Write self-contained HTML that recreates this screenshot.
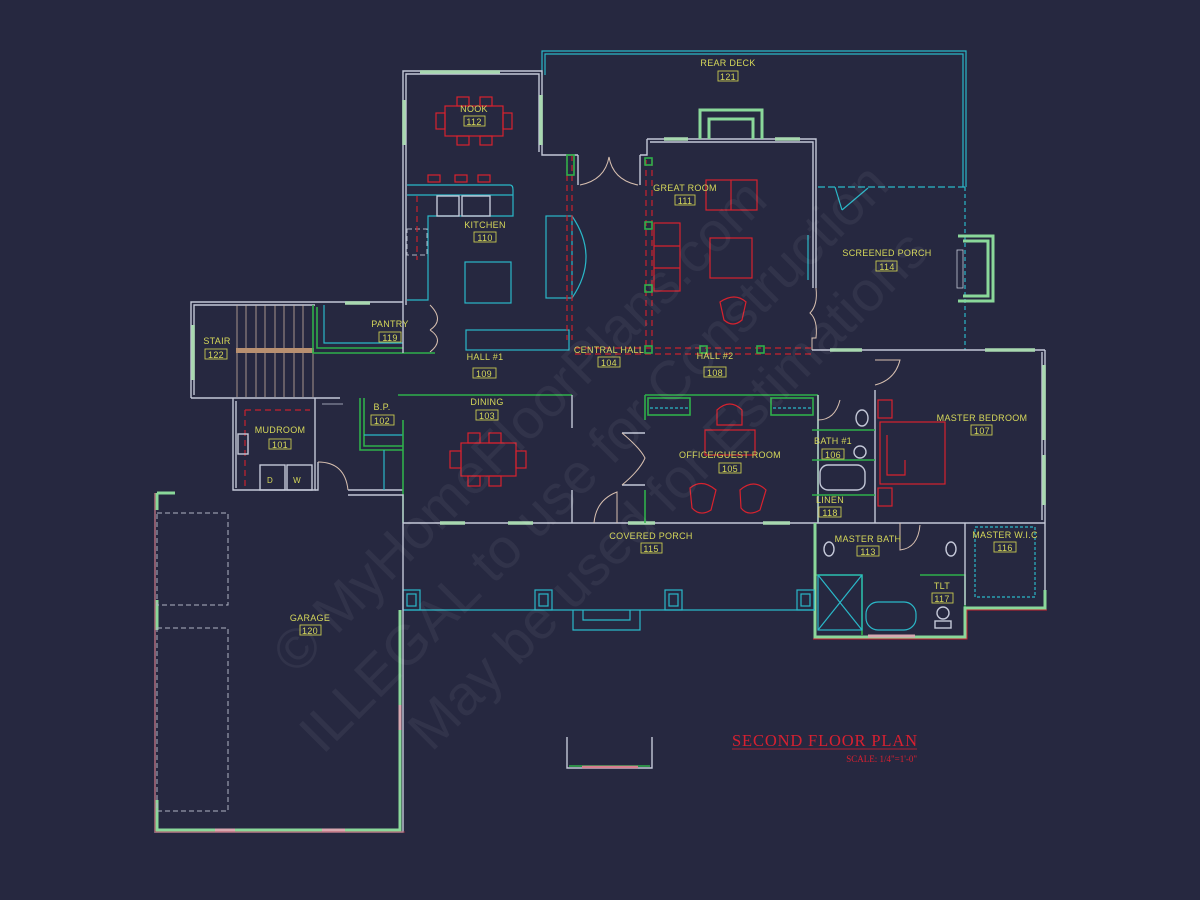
<!DOCTYPE html>
<html><head><meta charset="utf-8"><style>
html,body{margin:0;padding:0;background:#262840;}
svg{display:block}
text{font-family:"Liberation Sans",sans-serif;}
.l{fill:#d6d85a;font-size:9px;text-anchor:middle;letter-spacing:0.3px}
.b{fill:none;stroke:#c8c850;stroke-width:0.9}
.w{fill:none;stroke:#c4c8d8;stroke-width:1.4}
.g{fill:none;stroke:#2fb04a;stroke-width:1.6}
.c{fill:none;stroke:#2ab8c8;stroke-width:1.2}
.r{fill:none;stroke:#d8222e;stroke-width:1.2}
.rd{fill:none;stroke:#c8222e;stroke-width:1.2;stroke-dasharray:6 4}
.win{stroke:#a8d8b0;stroke-width:3.5}
.gw{fill:none;stroke:#8ad89a;stroke-width:3}
.dg{fill:none;stroke:#b0b4c4;stroke-width:1;stroke-dasharray:5 3}
.door{fill:none;stroke:#d8c0b0;stroke-width:1}
.wm{fill:#ffffff;fill-opacity:0.055;font-family:"Liberation Serif",serif;}
</style></head><body>
<svg width="1200" height="900" viewBox="0 0 1200 900" xmlns="http://www.w3.org/2000/svg">
<rect width="1200" height="900" fill="#262840"/>

<!-- Rear deck -->
<path class="c" d="M542 75 V51 H966 V187"/>
<path class="c" d="M545 75 V54 H963 V187" stroke-width="0.8"/>
<path class="c" d="M818 187 H966" stroke-dasharray="7 3"/>
<path class="c" d="M965 187 V350" stroke-dasharray="4 3"/>
<line class="c" x1="835" y1="187" x2="842" y2="210"/><line class="c" x1="842" y1="210" x2="868" y2="188"/>

<!-- Kitchen/nook block -->
<path class="w" d="M403 305 V71 H542 V155 H578"/>
<path class="w" d="M406 305 V74 H539 V152" stroke-width="0.8"/>
<line class="win" x1="420" y1="72" x2="500" y2="72"/>
<line class="win" x1="404" y1="100" x2="404" y2="145"/>
<line class="win" x1="541" y1="95" x2="541" y2="145"/>
<rect class="r" x="445" y="106" width="58" height="30"/>
<rect class="r" x="457" y="97" width="12" height="9"/><rect class="r" x="480" y="97" width="12" height="9"/>
<rect class="r" x="457" y="136" width="12" height="9"/><rect class="r" x="480" y="136" width="12" height="9"/>
<rect class="r" x="436" y="113" width="9" height="16"/><rect class="r" x="503" y="113" width="9" height="16"/>
<path class="c" d="M407 185 H510 Q513 185 513 190 V216 H428 V300 H407"/>
<path class="c" d="M407 195 H513"/>
<rect class="c" x="465" y="262" width="46" height="41"/>
<rect class="c" x="546" y="216" width="26" height="82"/>
<path class="c" d="M572 216 Q600 257 572 298"/>
<rect class="c" x="466" y="330" width="103" height="20"/>
<rect class="w" x="437" y="196" width="22" height="20" stroke-width="0.8"/>
<rect class="w" x="462" y="196" width="28" height="20" stroke-width="0.8"/>
<rect class="dg" x="407" y="229" width="20" height="26"/>
<rect class="r" x="428" y="175" width="12" height="7"/><rect class="r" x="455" y="175" width="12" height="7"/><rect class="r" x="478" y="175" width="12" height="7"/>
<line class="rd" x1="417" y1="196" x2="417" y2="260"/>
<line class="rd" x1="567" y1="155" x2="567" y2="340"/><line class="rd" x1="572" y1="155" x2="572" y2="340"/>
<rect class="g" x="567" y="155" width="7" height="20"/>
<path class="door" d="M430 305 Q445 320 430 330 M430 330 Q445 340 430 352"/>

<path class="w" d="M578 155 V185 M640 155 V185 M640 155 H647 V139"/>
<path class="door" d="M580 185 Q605 180 609 157 Q613 180 638 185"/>

<!-- Great room -->
<path class="w" d="M647 139 H816 V288 M812 350 H1045"/>
<path class="w" d="M650 142 H813 V288" stroke-width="0.8"/>
<line class="win" x1="664" y1="139" x2="688" y2="139"/><line class="win" x1="775" y1="139" x2="800" y2="139"/>
<path class="gw" d="M700 139 V110 H762 V139 M709 139 V119 H753 V139"/>
<rect class="r" x="706" y="180" width="51" height="30"/><line class="r" x1="731" y1="180" x2="731" y2="210"/>
<rect class="r" x="710" y="238" width="42" height="40"/>
<rect class="r" x="654" y="223" width="26" height="68"/>
<line class="r" x1="654" y1="246" x2="680" y2="246"/><line class="r" x1="654" y1="268" x2="680" y2="268"/>
<path class="r" d="M720 302 Q735 292 746 302 L742 320 Q733 328 724 320 Z"/>
<line class="rd" x1="646" y1="160" x2="646" y2="350"/><line class="rd" x1="652" y1="160" x2="652" y2="350"/>
<line class="rd" x1="575" y1="348" x2="812" y2="348"/><line class="rd" x1="575" y1="354" x2="812" y2="354"/>
<rect class="g" x="645" y="158" width="7" height="7"/><rect class="g" x="645" y="222" width="7" height="7"/><rect class="g" x="645" y="285" width="7" height="7"/><rect class="g" x="645" y="346" width="7" height="7"/><rect class="g" x="700" y="346" width="7" height="7"/><rect class="g" x="757" y="346" width="7" height="7"/>
<line class="c" x1="808" y1="235" x2="808" y2="280"/>
<path class="door" d="M816 288 Q818 305 810 313 Q818 320 816 338 L812 338 V350"/>
<path class="gw" d="M958 236 H993 V301 H958 M963 241 H988 V296 H963"/>
<rect x="957" y="250" width="6" height="38" fill="none" stroke="#c4c8d8" stroke-width="0.8"/>

<!-- Stair -->
<path class="w" d="M191 398 V302 H403"/>
<path class="w" d="M194 395 V305 H315" stroke-width="0.8"/>
<path class="w" d="M191 398 H315"/>
<line class="win" x1="193" y1="325" x2="193" y2="380"/>
<g stroke="#c8b0a0" stroke-width="0.8">
<line x1="237" y1="305" x2="237" y2="397"/><line x1="246" y1="305" x2="246" y2="397"/><line x1="256" y1="305" x2="256" y2="397"/><line x1="265" y1="305" x2="265" y2="397"/><line x1="275" y1="305" x2="275" y2="397"/><line x1="284" y1="305" x2="284" y2="397"/><line x1="294" y1="305" x2="294" y2="397"/><line x1="303" y1="305" x2="303" y2="397"/><line x1="313" y1="305" x2="313" y2="397"/>
</g>
<rect x="236" y="348" width="78" height="5" fill="#b89070"/>
<path class="g" d="M313 305 V353 H435"/><path class="g" d="M317 307 V348 H403" stroke-width="1"/>
<path class="c" d="M324 305 V343 H403"/>
<line class="win" x1="345" y1="303" x2="370" y2="303"/>
<line class="w" x1="403" y1="305" x2="403" y2="353"/>

<!-- Mudroom -->
<path class="w" d="M233 398 V490 H315 V398"/>
<path class="w" d="M236 401 V488" stroke-width="0.8"/>
<path class="rd" d="M245 410 H310 M245 410 V488"/>
<rect class="w" x="238" y="434" width="10" height="20" stroke-width="0.8"/>
<rect class="w" x="260" y="465" width="25" height="25" stroke-width="0.8"/><rect class="w" x="287" y="465" width="25" height="25" stroke-width="0.8"/>
<text class="l" x="270" y="483" style="font-size:8px">D</text><text class="l" x="297" y="483" style="font-size:8px">W</text>
<path class="w" d="M315 490 H318 V462 M348 490 H403" stroke-width="1.2"/>
<path class="door" d="M318 462 Q345 462 348 490"/>
<path class="w" d="M315 398 H340" stroke-width="1"/>
<line x1="322" y1="404" x2="343" y2="404" stroke="#c4c8d8" stroke-width="0.8"/>

<!-- BP -->
<path class="g" d="M360 398 V450 H403"/>
<path class="g" d="M364 398 V446 H403" stroke-width="1"/>
<path class="c" d="M364 435 H403"/>
<line class="c" x1="384" y1="450" x2="384" y2="490"/>

<!-- Dining -->
<path class="g" d="M398 395 H572"/><path class="g" d="M403 420 V523"/>
<path class="w" d="M572 395 V428 M572 490 V523"/>
<path class="w" d="M403 523 H815" stroke-width="1.4"/>
<line class="win" x1="440" y1="523" x2="465" y2="523"/><line class="win" x1="508" y1="523" x2="533" y2="523"/><line class="win" x1="628" y1="523" x2="655" y2="523"/><line class="win" x1="763" y1="523" x2="790" y2="523"/>
<rect class="r" x="461" y="443" width="55" height="33"/>
<rect class="r" x="468" y="433" width="12" height="10"/><rect class="r" x="489" y="433" width="12" height="10"/>
<rect class="r" x="468" y="476" width="12" height="10"/><rect class="r" x="489" y="476" width="12" height="10"/>
<rect class="r" x="450" y="451" width="11" height="17"/><rect class="r" x="516" y="451" width="10" height="17"/>
<path class="door" d="M594 523 Q596 500 617 492 V523"/>

<!-- Office -->
<path class="g" d="M645 395 H818 M645 395 V420 M645 490 V523"/>
<path class="g" d="M818 395 V523"/>
<rect class="g" x="648" y="398" width="42" height="17"/><rect class="g" x="771" y="398" width="42" height="17"/>
<line class="c" x1="650" y1="408" x2="688" y2="408" stroke-dasharray="3 2"/><line class="c" x1="773" y1="408" x2="811" y2="408" stroke-dasharray="3 2"/>
<path class="w" d="M622 433 H645 M622 485 H645"/>
<path class="door" d="M622 433 Q640 448 645 458 Q640 470 622 485"/>
<path class="r" d="M717 410 Q730 398 742 410 V425 H717 Z"/>
<rect class="r" x="705" y="430" width="50" height="25"/>
<path class="r" d="M690 488 Q702 478 716 490 L711 510 Q700 517 692 508 Z"/>
<path class="r" d="M740 490 Q754 478 766 490 L760 510 Q748 517 741 508 Z"/>

<!-- Bath 1 / linen -->
<path class="w" d="M818 395 V523 M875 390 V523 M815 523 H1045"/>
<path class="g" d="M812 430 H875 M812 460 H875 M812 495 H875"/>
<rect class="w" x="820" y="465" width="45" height="25" rx="8" stroke-width="0.8"/>
<ellipse class="w" cx="862" cy="418" rx="6" ry="8" stroke-width="0.8"/>
<ellipse class="w" cx="860" cy="452" rx="6" ry="6" stroke-width="0.8"/>
<path class="door" d="M818 420 Q835 420 840 400"/>
<path class="door" d="M875 385 Q895 380 900 360 H875"/>

<!-- Master bedroom -->
<path class="w" d="M1045 350 V600"/><path class="w" d="M1042 352 V520" stroke-width="0.8"/>
<line class="win" x1="1044" y1="365" x2="1044" y2="440"/><line class="win" x1="1044" y1="455" x2="1044" y2="505"/>
<line class="win" x1="830" y1="350" x2="862" y2="350"/><line class="win" x1="985" y1="350" x2="1035" y2="350"/>
<rect class="r" x="880" y="422" width="65" height="62"/>
<rect class="r" x="878" y="400" width="14" height="18"/><rect class="r" x="878" y="488" width="14" height="18"/>
<path class="r" d="M887 435 V475 H905 V460"/>

<!-- Master bath -->
<path class="g" d="M815 575 H862 V635 M920 575 H965 V635"/>
<rect class="c" x="818" y="575" width="44" height="55"/>
<line class="c" x1="818" y1="575" x2="862" y2="630"/><line class="c" x1="862" y1="575" x2="818" y2="630"/>
<rect class="c" x="866" y="602" width="50" height="28" rx="12"/>
<ellipse class="w" cx="829" cy="549" rx="5" ry="7" stroke-width="0.8"/><ellipse class="w" cx="951" cy="549" rx="5" ry="7" stroke-width="0.8"/>
<circle class="w" cx="943" cy="613" r="6" stroke-width="0.8"/><rect class="w" x="935" y="621" width="16" height="7" stroke-width="0.8"/>
<path class="gw" d="M815 523 V637 H965 V608 H1045 V590"/>
<path d="M813 639 H967 V610 H1047" fill="none" stroke="#c8222e" stroke-width="1"/>
<line x1="868" y1="636" x2="915" y2="636" stroke="#d8a8b0" stroke-width="3"/>
<path class="door" d="M900 523 V550 Q918 548 920 525"/>
<rect class="c" x="975" y="527" width="60" height="70" stroke-dasharray="3 2" stroke-width="2"/>
<path class="w" d="M965 523 V605" stroke-width="1"/>

<!-- Covered porch -->
<path class="c" d="M403 610 H815"/>
<rect class="c" x="403" y="590" width="17" height="20"/><rect class="c" x="407" y="594" width="9" height="12"/>
<rect class="c" x="535" y="590" width="17" height="20"/><rect class="c" x="539" y="594" width="9" height="12"/>
<rect class="c" x="665" y="590" width="17" height="20"/><rect class="c" x="669" y="594" width="9" height="12"/>
<rect class="c" x="797" y="590" width="17" height="20"/><rect class="c" x="801" y="594" width="9" height="12"/>
<path class="c" d="M573 610 V630 H640 V610 M583 610 V620 H630 V610"/>

<!-- Garage -->
<path class="w" d="M155 493 V832 H403 V495 H348" stroke-width="1"/>
<path class="gw" d="M157 493 H175 M157 493 V510 M157 600 V630 M157 800 V830 H400 V610"/>
<path d="M155 493 V832 H405" fill="none" stroke="#b03040" stroke-width="0.8"/>
<line x1="400" y1="705" x2="400" y2="730" stroke="#d8a8b0" stroke-width="3"/>
<line x1="215" y1="830" x2="235" y2="830" stroke="#d8a8b0" stroke-width="3"/><line x1="322" y1="830" x2="345" y2="830" stroke="#d8a8b0" stroke-width="3"/>
<rect class="dg" x="157" y="513" width="71" height="92"/>
<rect class="dg" x="157" y="628" width="71" height="183"/>

<!-- Small bay -->
<path class="w" d="M567 737 V768 H652 V737"/>
<path class="g" d="M569 766 H650" stroke-width="1.2"/>
<line x1="582" y1="767" x2="638" y2="767" stroke="#d88090" stroke-width="2.5"/>

<!-- Labels -->
<g>
<text class="l" x="728" y="66">REAR DECK</text><rect class="b" x="718" y="71" width="20" height="10"/><text class="l" x="728" y="80">121</text>
<text class="l" x="474" y="112">NOOK</text><rect class="b" x="464" y="116" width="21" height="10"/><text class="l" x="474" y="125">112</text>
<text class="l" x="685" y="191">GREAT ROOM</text><rect class="b" x="675" y="195" width="20" height="10"/><text class="l" x="685" y="204">111</text>
<text class="l" x="485" y="228">KITCHEN</text><rect class="b" x="474" y="232" width="22" height="10"/><text class="l" x="485" y="241">110</text>
<text class="l" x="887" y="256">SCREENED PORCH</text><rect class="b" x="876" y="261" width="21" height="10"/><text class="l" x="887" y="270">114</text>
<text class="l" x="390" y="327">PANTRY</text><rect class="b" x="379" y="332" width="22" height="10"/><text class="l" x="390" y="341">119</text>
<text class="l" x="217" y="344">STAIR</text><rect class="b" x="205" y="349" width="22" height="10"/><text class="l" x="216" y="358">122</text>
<text class="l" x="485" y="360">HALL #1</text><rect class="b" x="473" y="368" width="23" height="10"/><text class="l" x="484" y="377">109</text>
<text class="l" x="609" y="353">CENTRAL HALL</text><rect class="b" x="598" y="357" width="22" height="10"/><text class="l" x="609" y="366">104</text>
<text class="l" x="715" y="359">HALL #2</text><rect class="b" x="704" y="367" width="22" height="10"/><text class="l" x="715" y="376">108</text>
<text class="l" x="382" y="410">B.P.</text><rect class="b" x="371" y="415" width="23" height="10"/><text class="l" x="382" y="424">102</text>
<text class="l" x="487" y="405">DINING</text><rect class="b" x="476" y="410" width="22" height="10"/><text class="l" x="487" y="419">103</text>
<text class="l" x="280" y="433">MUDROOM</text><rect class="b" x="269" y="439" width="22" height="10"/><text class="l" x="280" y="448">101</text>
<text class="l" x="730" y="458">OFFICE/GUEST ROOM</text><rect class="b" x="719" y="463" width="22" height="10"/><text class="l" x="730" y="472">105</text>
<text class="l" x="833" y="444">BATH #1</text><rect class="b" x="822" y="449" width="22" height="10"/><text class="l" x="833" y="458">106</text>
<text class="l" x="982" y="421">MASTER BEDROOM</text><rect class="b" x="971" y="425" width="21" height="10"/><text class="l" x="982" y="434">107</text>
<text class="l" x="830" y="503">LINEN</text><rect class="b" x="819" y="507" width="22" height="10"/><text class="l" x="830" y="516">118</text>
<text class="l" x="868" y="542">MASTER BATH</text><rect class="b" x="857" y="546" width="22" height="10"/><text class="l" x="868" y="555">113</text>
<text class="l" x="1005" y="538">MASTER W.I.C</text><rect class="b" x="994" y="542" width="22" height="10"/><text class="l" x="1005" y="551">116</text>
<text class="l" x="942" y="589">TLT</text><rect class="b" x="932" y="593" width="21" height="10"/><text class="l" x="942" y="602">117</text>
<text class="l" x="651" y="539">COVERED PORCH</text><rect class="b" x="641" y="543" width="21" height="10"/><text class="l" x="651" y="552">115</text>
<text class="l" x="310" y="621">GARAGE</text><rect class="b" x="300" y="625" width="21" height="10"/><text class="l" x="310" y="634">120</text>
</g>

<text x="732" y="746" fill="#d82030" style="font-family:'Liberation Serif',serif;font-size:16.5px" textLength="185">SECOND FLOOR PLAN</text>
<line x1="732" y1="749" x2="917" y2="749" stroke="#d82030" stroke-width="0.8"/>
<text x="917" y="762" fill="#d82030" text-anchor="end" style="font-family:'Liberation Serif',serif;font-size:9px">SCALE: 1/4"=1'-0"</text>

<g class="wm" transform="rotate(-45 600 450)">
<text x="560" y="395" font-size="56" text-anchor="middle">© MyHomeFloorPlans.com</text>
<text x="590" y="470" font-size="56" text-anchor="middle">ILLEGAL to use for Construction</text>
<text x="620" y="545" font-size="56" text-anchor="middle">May be used for Estimations</text>
</g>
</svg>
</body></html>
